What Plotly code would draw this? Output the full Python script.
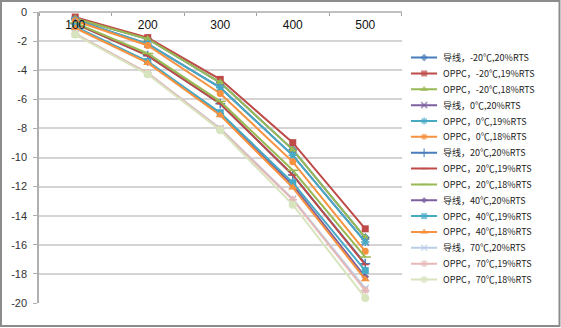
import plotly.graph_objects as go

# ---------------- data ----------------
categories = ["100", "200", "300", "400", "500"]

names = [
    "导线，-20℃,20%RTS", "OPPC，-20℃,19%RTS", "OPPC，-20℃,18%RTS",
    "导线，0℃,20%RTS", "OPPC，0℃,19%RTS", "OPPC，0℃,18%RTS",
    "导线，20℃,20%RTS", "OPPC，20℃,19%RTS", "OPPC，20℃,18%RTS",
    "导线，40℃,20%RTS", "OPPC，40℃,19%RTS", "OPPC，40℃,18%RTS",
    "导线，70℃,20%RTS", "OPPC，70℃,19%RTS", "OPPC，70℃,18%RTS",
]

dx_m20 = [-0.45, -1.85, -4.85, -9.46, -15.5]
op19_m20 = [-0.35, -1.76, -4.63, -8.98, -14.9]
op18_m20 = [-0.45, -1.85, -4.85, -9.46, -15.5]
dx_0 = [-0.55, -2.2, -5.2, -9.85, -15.8]
op19_0 = [-0.55, -2.2, -5.2, -9.85, -15.8]
op18_0 = [-0.6, -2.3, -5.6, -10.3, -16.45]
dx_20 = [-0.8, -3.0, -6.3, -11.2, -17.3]
op19_20 = [-0.8, -3.0, -6.3, -11.2, -17.36]
op18_20 = [-0.75, -2.85, -6.14, -10.88, -16.84]
dx_40 = [-1.05, -3.45, -7.0, -11.9, -18.2]
op19_40 = [-1.0, -3.4, -6.92, -11.73, -17.77]
op18_40 = [-1.1, -3.5, -7.1, -12.07, -18.37]
dx_70 = [-1.5, -4.2, -8.0, -12.85, -19.0]
op19_70 = [-1.5, -4.2, -8.05, -12.9, -19.13]
op18_70 = [-1.55, -4.28, -8.13, -13.24, -19.65]

series_values = [dx_m20, op19_m20, op18_m20, dx_0, op19_0, op18_0,
                 dx_20, op19_20, op18_20, dx_40, op19_40, op18_40,
                 dx_70, op19_70, op18_70]

y_ticks = [0, -2, -4, -6, -8, -10, -12, -14, -16, -18, -20]

# ---------------- styles ----------------
colors = ["#4A7EBB", "#BE4B48", "#98B954", "#7D60A0", "#46AAC5", "#F69240",
          "#4A7EBB", "#BE4B48", "#98B954", "#7D60A0", "#46AAC5", "#F69240",
          "#B9CDE5", "#E6B9B8", "#D7E4BD"]
symbols = ["diamond", "square", "triangle-up", "x-thin-open", "asterisk-open", "circle",
           "cross-thin-open", "line-ew-open", "line-ew-open", "diamond", "square",
           "triangle-up", "x-thin-open", "asterisk-open", "circle"]
sizes = [7, 7, 8, 7, 7, 7, 7, 5, 8, 6, 7, 8, 7, 7, 8]

# layout geometry (pixels)
W, H = 561, 328
ML, MR, MT, MB = 39, 0, 12, 25
PW = W - ML - MR
PH = H - MT - MB
plot_right = 401.5
leg_x0, leg_x1, leg_text = 411, 437.3, 441
leg_first, leg_step = 57.6, 15.85


def px_x(p):
    return (p - ML) / PW


fig = go.Figure()

for i, vals in enumerate(series_values):
    open_sym = symbols[i].endswith("-open")
    mk = dict(symbol=symbols[i], size=sizes[i], color=colors[i],
              line=dict(color=colors[i], width=1.5 if open_sym else 0))
    fig.add_trace(go.Scatter(
        x=categories, y=vals, mode="lines+markers", name=names[i],
        line=dict(color=colors[i], width=2), marker=mk,
        cliponaxis=False, showlegend=False,
        xaxis="x", yaxis="y"))

# manual legend (compact spacing like the original)
for i in range(len(names)):
    open_sym = symbols[i].endswith("-open")
    fig.add_trace(go.Scatter(
        x=[0, 0.5, 1], y=[i, i, i], mode="lines+markers",
        line=dict(color=colors[i], width=2),
        marker=dict(symbol=symbols[i], size=[0, sizes[i] - 1, 0], color=colors[i],
                    line=dict(color=colors[i], width=1.5 if open_sym else 0)),
        showlegend=False, hoverinfo="skip", cliponaxis=False,
        xaxis="x2", yaxis="y2"))
    fig.add_annotation(
        x=px_x(leg_text), xref="paper", y=i, yref="y2",
        text=names[i], showarrow=False, xanchor="left", yanchor="middle",
        font=dict(family="Noto Sans CJK SC", size=9, color="#222222"))

y2_top = (MT - leg_first) / leg_step
y2_bottom = (H - MB - leg_first) / leg_step

fig.update_layout(
    width=W, height=H,
    margin=dict(l=ML, r=MR, t=MT, b=MB, pad=0),
    paper_bgcolor="white", plot_bgcolor="white",
    font=dict(family="Liberation Sans", color="#222222"),
    xaxis=dict(
        type="category", categoryorder="array", categoryarray=categories,
        range=[-0.5, 4.5], domain=[0, px_x(plot_right)],
        side="bottom", anchor="free", position=1,
        showline=True, linecolor="#c0c0c0", linewidth=1.5,
        ticks="outside", ticklen=3, tickcolor="#a0a0a0", tickson="boundaries",
        ticklabelstandoff=2,
        tickfont=dict(family="Liberation Sans", size=12, color="#111111"),
        showgrid=False, zeroline=False, fixedrange=True),
    yaxis=dict(
        range=[-20, 0], tickvals=y_ticks, ticktext=[str(v) for v in y_ticks],
        domain=[0, 1], anchor="x",
        showline=True, linecolor="#b0b0b0", linewidth=1.5,
        ticks="outside", ticklen=4, tickcolor="#b0b0b0",
        ticklabelstandoff=4,
        tickfont=dict(family="Liberation Sans", size=11, color="#333333"),
        showgrid=True, gridcolor="#d4d4d4", gridwidth=1.5,
        zeroline=False, fixedrange=True),
    xaxis2=dict(domain=[px_x(leg_x0), px_x(leg_x1)], range=[0, 1], anchor="y2",
                visible=False, fixedrange=True),
    yaxis2=dict(domain=[0, 1], range=[y2_bottom, y2_top], anchor="x2",
                visible=False, fixedrange=True),
    shapes=[dict(type="rect", xref="paper", yref="paper",
                 x0=(1 - ML) / PW, x1=(W - 1.5 - ML) / PW,
                 y0=(H - MB - (H - 2)) / PH, y1=(H - MB - 1) / PH,
                 line=dict(color="#8c8c8c", width=2), fillcolor="rgba(0,0,0,0)",
                 layer="above")],
)

fig.write_html("out.html")
